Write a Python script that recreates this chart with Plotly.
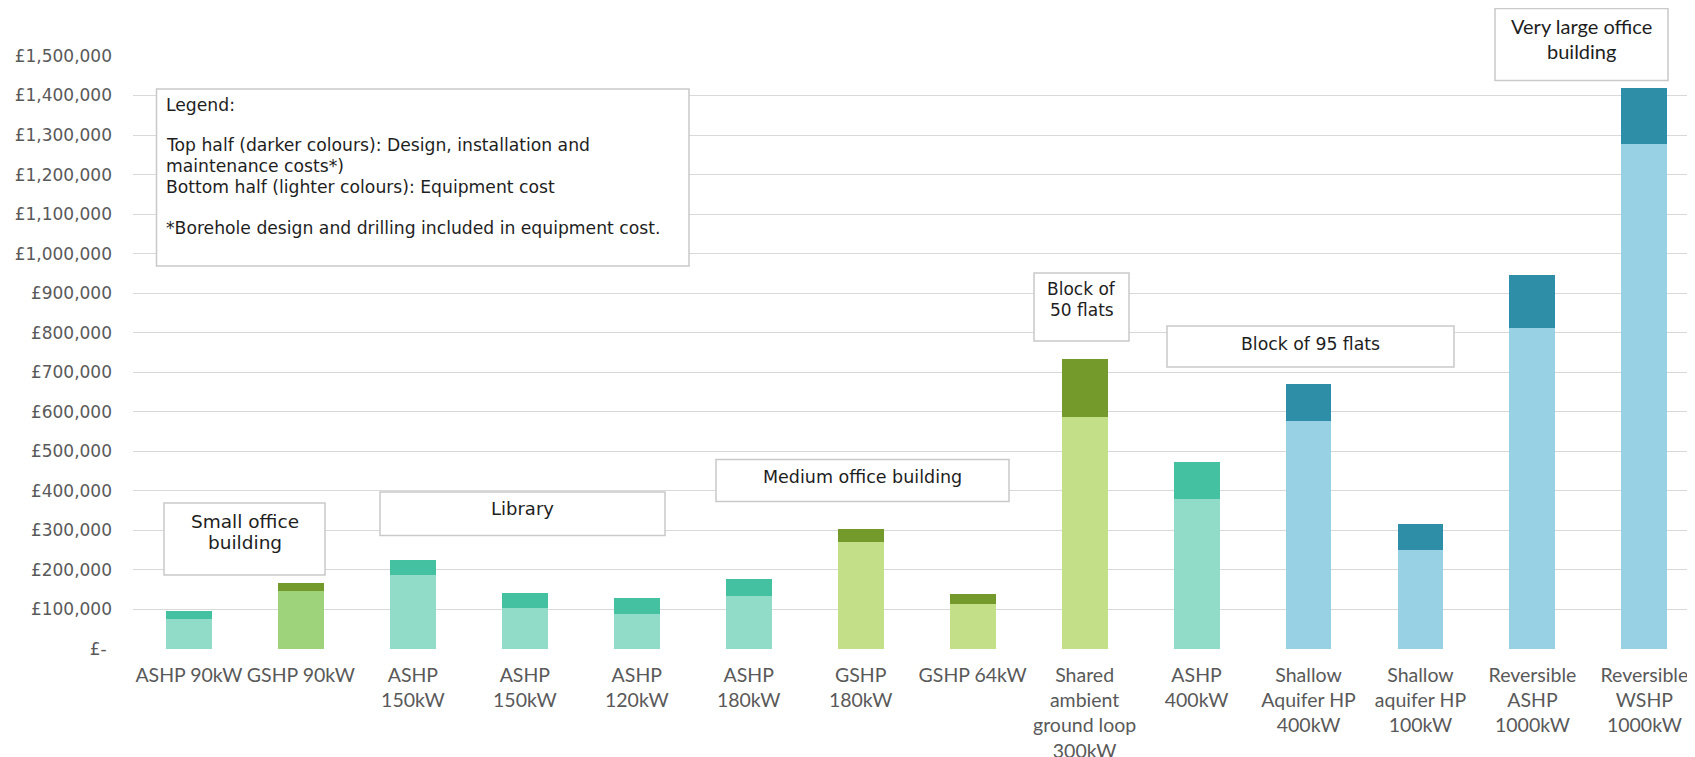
import plotly.graph_objects as go

# ---------------- data ----------------
tick_labels = [
    "ASHP 90kW", "GSHP 90kW", "ASHP<br>150kW", "ASHP<br>150kW", "ASHP<br>120kW",
    "ASHP<br>180kW", "GSHP<br>180kW", "GSHP 64kW",
    "Shared<br>ambient<br>ground loop<br>300kW", "ASHP<br>400kW",
    "Shallow<br>Aquifer HP<br>400kW", "Shallow<br>aquifer HP<br>100kW",
    "Reversible<br>ASHP<br>1000kW", "Reversible<br>WSHP<br>1000kW",
]
positions = list(range(len(tick_labels)))
equipment_cost = [76000, 147000, 187000, 104000, 88000, 134000, 271000, 114000,
                  587000, 380000, 578000, 250000, 812000, 1277000]
design_install_cost = [20000, 20000, 38000, 38000, 42000, 42000, 33000, 24000,
                       146000, 92000, 92000, 67000, 133000, 141000]
technology_group = ["ashp", "gshp90", "ashp", "ashp", "ashp", "ashp", "gshp", "gshp",
                    "gshp", "ashp", "blue", "blue", "blue", "blue"]

y_tick_values = [0, 100000, 200000, 300000, 400000, 500000, 600000, 700000, 800000,
                 900000, 1000000, 1100000, 1200000, 1300000, 1400000, 1500000]
y_tick_text = ["£-\u00a0", "£100,000", "£200,000", "£300,000", "£400,000", "£500,000",
               "£600,000", "£700,000", "£800,000", "£900,000", "£1,000,000",
               "£1,100,000", "£1,200,000", "£1,300,000", "£1,400,000", "£1,500,000"]

light_colours = {"ashp": "#91dbc9", "gshp90": "#9fd37b", "gshp": "#c3e089", "blue": "#97d1e3"}
dark_colours = {"ashp": "#44c1a1", "gshp90": "#739a2a", "gshp": "#739a2a", "blue": "#2e8ea8"}

# ---------------- layout geometry ----------------
# the page body has an 8px margin, so the figure starts at (8, 8) in the window
OFF = 8
PLOT_LEFT, PLOT_TOP, PLOT_BOTTOM = 133, 56, 649
PW = 1564
PH = PLOT_BOTTOM - PLOT_TOP
L = PLOT_LEFT - OFF
T = PLOT_TOP - OFF
W_FIG = L + PW
H_FIG = 757
B = H_FIG - T - PH


def px(x):
    return (x - PLOT_LEFT) / PW


def py(y):
    return (PLOT_BOTTOM - y) / PH


fig = go.Figure()
fig.add_trace(go.Bar(
    x=positions, y=equipment_cost, width=0.41,
    marker=dict(color=[light_colours[g] for g in technology_group], line=dict(width=0)),
    name="Equipment cost", showlegend=False,
))
fig.add_trace(go.Bar(
    x=positions, y=design_install_cost, width=0.41,
    marker=dict(color=[dark_colours[g] for g in technology_group], line=dict(width=0)),
    name="Design, installation and maintenance", showlegend=False,
))

shapes = []
annotations = []

BOX_LINE = "#c9c9c9"
TXT = "#1e1e1e"


def box(x0, y0, x1, y1):
    shapes.append(dict(type="rect", xref="paper", yref="paper",
                       x0=px(x0), x1=px(x1), y0=py(y1), y1=py(y0),
                       line=dict(color=BOX_LINE, width=1.5), fillcolor="white",
                       layer="above"))


def label(text, x, y, size, family="DejaVu Sans", xanchor="center"):
    annotations.append(dict(text=text, x=px(x), y=py(y), xref="paper", yref="paper",
                            showarrow=False, xanchor=xanchor, yanchor="middle",
                            align="center" if xanchor == "center" else "left",
                            font=dict(family=family, size=size, color=TXT)))


# legend box
box(156.5, 89, 689, 266)
label("Legend:", 163.5, 105, 17.2, xanchor="left")
label("Top half (darker colours): Design, installation and", 163.5, 145, 17.2, xanchor="left")
label("maintenance costs*)", 163.5, 166, 17.2, xanchor="left")
label("Bottom half (lighter colours): Equipment cost", 163.5, 186.5, 17.2, xanchor="left")
label("*Borehole design and drilling included in equipment cost.", 163.5, 227.5, 17.2, xanchor="left")

# group boxes
box(164, 503, 325, 575)
label("Small office", 244.5, 521, 18.5)
label("building", 244.5, 542, 18.5)
box(380, 492, 665, 535.5)
label("Library", 522, 508.5, 18)
box(716, 459.5, 1009, 501.5)
label("Medium office building", 862, 477, 17.5)
box(1034, 273, 1129, 341)
label("Block of", 1081.5, 289, 17)
label("50 flats", 1081.5, 310, 17)
box(1167, 326, 1454, 367)
label("Block of 95 flats", 1310.5, 344, 17.3)
box(1495, 8.5, 1668, 80.5)
label("Very large office", 1581, 26, 20, family="Lato")
label("building", 1581, 51, 20, family="Lato")

fig.update_layout(
    width=W_FIG, height=H_FIG,
    margin=dict(l=L, r=0, t=T, b=B, autoexpand=False),
    paper_bgcolor="white", plot_bgcolor="white",
    barmode="stack",
    shapes=shapes, annotations=annotations,
    showlegend=False,
)
fig.update_xaxes(
    range=[-0.5, 13.47], tickmode="array", tickvals=positions, ticktext=tick_labels,
    showgrid=False, showline=False, zeroline=False, ticks="",
    tickfont=dict(family="Lato", size=19.5, color="#595959"),
    automargin=False, ticklabelstandoff=12,
)
fig.update_yaxes(
    range=[0, 1500000], tickmode="array", tickvals=y_tick_values, ticktext=y_tick_text,
    showgrid=True, gridcolor="#d9d9d9", gridwidth=1.3, zeroline=False, showline=False,
    ticks="", tickfont=dict(family="DejaVu Sans", size=17, color="#595959"),
    automargin=False, ticklabelstandoff=20,
)

fig.write_html("out.html")
